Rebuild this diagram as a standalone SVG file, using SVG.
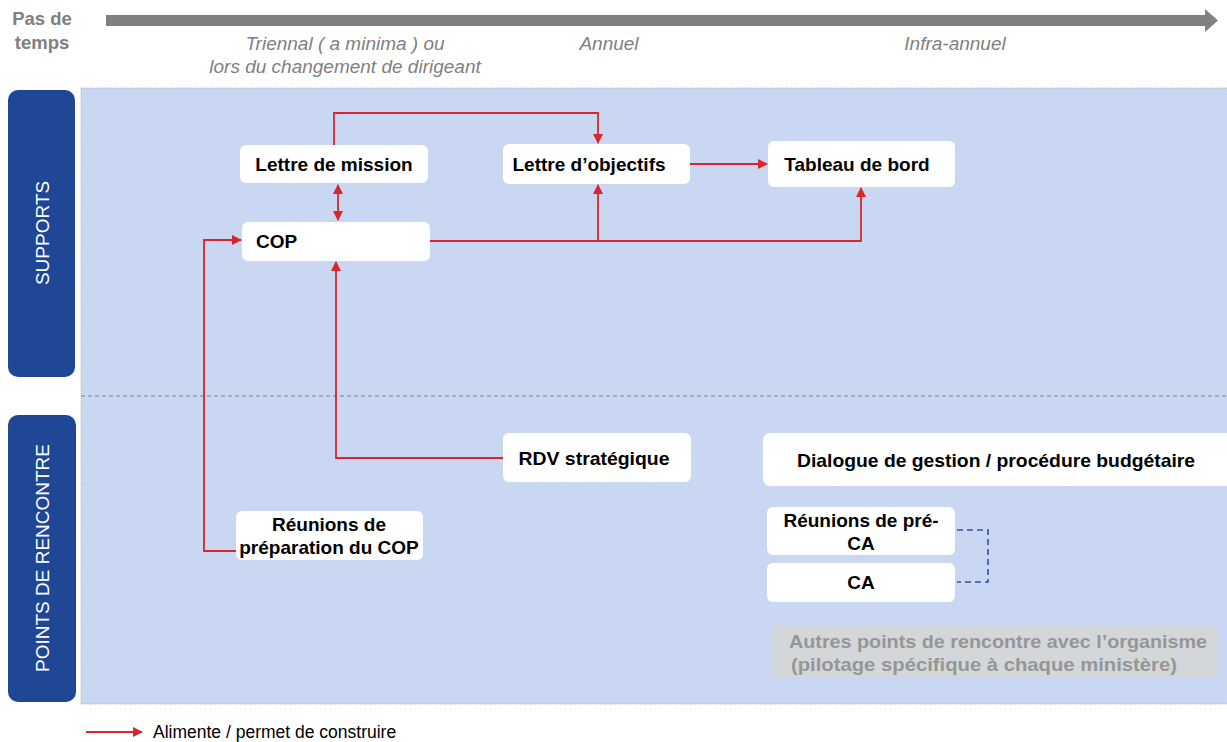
<svg xmlns="http://www.w3.org/2000/svg" width="1227" height="742" viewBox="0 0 1227 742">
<style>
.node{fill:#ffffff}
.t{font-family:"Liberation Sans",Arial,sans-serif;font-weight:bold;font-size:19px;fill:#000}
.hdr{font-family:"Liberation Sans",Arial,sans-serif;font-style:italic;font-size:19px;fill:#7f7f7f}
.side{font-family:"Liberation Sans",Arial,sans-serif;font-size:19px;fill:#ffffff}
.red{fill:none;stroke:#d9262b;stroke-width:1.8}
.blue{fill:none;stroke:#2f54a3;stroke-width:1.6;stroke-dasharray:6 4}
</style>
<defs>
<marker id="ah" viewBox="0 0 10 10" refX="9" refY="5" markerWidth="10" markerHeight="10" orient="auto-start-reverse" markerUnits="userSpaceOnUse">
<path d="M0,0 L10,5 L0,10 z" fill="#d9262b"/>
</marker>
</defs>
<rect width="1227" height="742" fill="#ffffff"/>
<g id="timeline">
<rect x="106" y="15" width="1100" height="11" fill="#808080"/>
<path d="M1205,9 L1218,20.5 L1205,32 z" fill="#808080"/>
<text x="42" y="25" text-anchor="middle" font-family="Liberation Sans,Arial,sans-serif" font-weight="bold" font-size="18.5" fill="#808080">Pas de</text>
<text x="42" y="49" text-anchor="middle" font-family="Liberation Sans,Arial,sans-serif" font-weight="bold" font-size="18.5" fill="#808080">temps</text>
<text class="hdr" x="345" y="50" text-anchor="middle">Triennal ( a minima ) ou</text>
<text class="hdr" x="345" y="73" text-anchor="middle">lors du changement de dirigeant</text>
<text class="hdr" x="609" y="50" text-anchor="middle">Annuel</text>
<text class="hdr" x="955" y="50" text-anchor="middle">Infra-annuel</text>
</g>
<g id="panel">
<rect x="81" y="88" width="1146" height="616" fill="#c9d7f2"/>
<path d="M81,88 H1227 M81,88 V704 H1227" fill="none" stroke="#a6a6a6" stroke-width="1" stroke-dasharray="1 1.5"/>
<line x1="81" y1="396" x2="1227" y2="396" stroke="#808080" stroke-width="1.2" stroke-dasharray="4 3"/>
</g>
<g id="supports">
<rect x="8" y="90" width="67" height="287" rx="10" fill="#1f4796"/>
<text class="side" transform="translate(48.5,233) rotate(-90)" text-anchor="middle">SUPPORTS</text>
</g>
<g id="points-de-rencontre">
<rect x="8" y="415" width="68" height="287" rx="10" fill="#1f4796"/>
<text class="side" transform="translate(49,558) rotate(-90)" text-anchor="middle">POINTS DE RENCONTRE</text>
</g>
<g id="connectors">
<path class="red" d="M334,145 V113 H598 V143" marker-end="url(#ah)"/>
<path class="red" d="M338,185 V220" marker-start="url(#ah)" marker-end="url(#ah)"/>
<path class="red" d="M690,164 H767" marker-end="url(#ah)"/>
<path class="red" d="M430,241 H861 V188" marker-end="url(#ah)"/>
<path class="red" d="M598,241 V185" marker-end="url(#ah)"/>
<path class="red" d="M503,458 H336 V262" marker-end="url(#ah)"/>
<path class="red" d="M236,551 H204 V240 H241" marker-end="url(#ah)"/>
<path class="blue" d="M957,530 H988 V582 H957"/>
</g>
<g id="lettre-de-mission">
<rect class="node" x="240" y="145" width="188" height="38" rx="6"/>
<text class="t" x="334" y="171" text-anchor="middle">Lettre de mission</text>
</g>
<g id="cop">
<rect class="node" x="242" y="222" width="188" height="39" rx="6"/>
<text class="t" x="256" y="248">COP</text>
</g>
<g id="lettre-objectifs">
<rect class="node" x="503" y="144" width="187" height="40" rx="6"/>
<text class="t" x="589" y="171" text-anchor="middle">Lettre d’objectifs</text>
</g>
<g id="tableau-de-bord">
<rect class="node" x="768" y="141" width="187" height="46" rx="6"/>
<text class="t" x="857" y="171" text-anchor="middle">Tableau de bord</text>
</g>
<g id="rdv-strategique">
<rect class="node" x="503" y="433" width="188" height="49" rx="6"/>
<text class="t" x="594" y="465" text-anchor="middle" textLength="151" lengthAdjust="spacingAndGlyphs">RDV stratégique</text>
</g>
<g id="reunions-preparation-cop">
<rect class="node" x="236" y="511" width="187" height="49" rx="6"/>
<text class="t" x="329" y="531" text-anchor="middle">Réunions de</text>
<text class="t" x="329" y="554" text-anchor="middle">préparation du COP</text>
</g>
<g id="dialogue-de-gestion">
<rect class="node" x="763" y="433" width="470" height="53" rx="7"/>
<text class="t" x="996" y="467" text-anchor="middle" textLength="398" lengthAdjust="spacingAndGlyphs">Dialogue de gestion / procédure budgétaire</text>
</g>
<g id="reunions-pre-ca">
<rect class="node" x="767" y="507" width="188" height="48" rx="6"/>
<text class="t" x="861" y="527" text-anchor="middle">Réunions de pré-</text>
<text class="t" x="861" y="550" text-anchor="middle">CA</text>
</g>
<g id="ca">
<rect class="node" x="767" y="563" width="188" height="39" rx="6"/>
<text class="t" x="861" y="589" text-anchor="middle">CA</text>
</g>
<g id="autres-points">
<rect x="772" y="626" width="446" height="52" rx="6" fill="#d4d7da"/>
<text class="t" x="998" y="648" text-anchor="middle" style="fill:#969696" textLength="418" lengthAdjust="spacingAndGlyphs">Autres points de rencontre avec l’organisme</text>
<text class="t" x="984" y="671" text-anchor="middle" style="fill:#969696" textLength="386" lengthAdjust="spacingAndGlyphs">(pilotage spécifique à chaque ministère)</text>
</g>
<g id="legend">
<path class="red" d="M86,732 H142" marker-end="url(#ah)"/>
<text x="153" y="738" font-family="Liberation Sans,Arial,sans-serif" font-size="17.5" fill="#000">Alimente / permet de construire</text>
</g>
</svg>
